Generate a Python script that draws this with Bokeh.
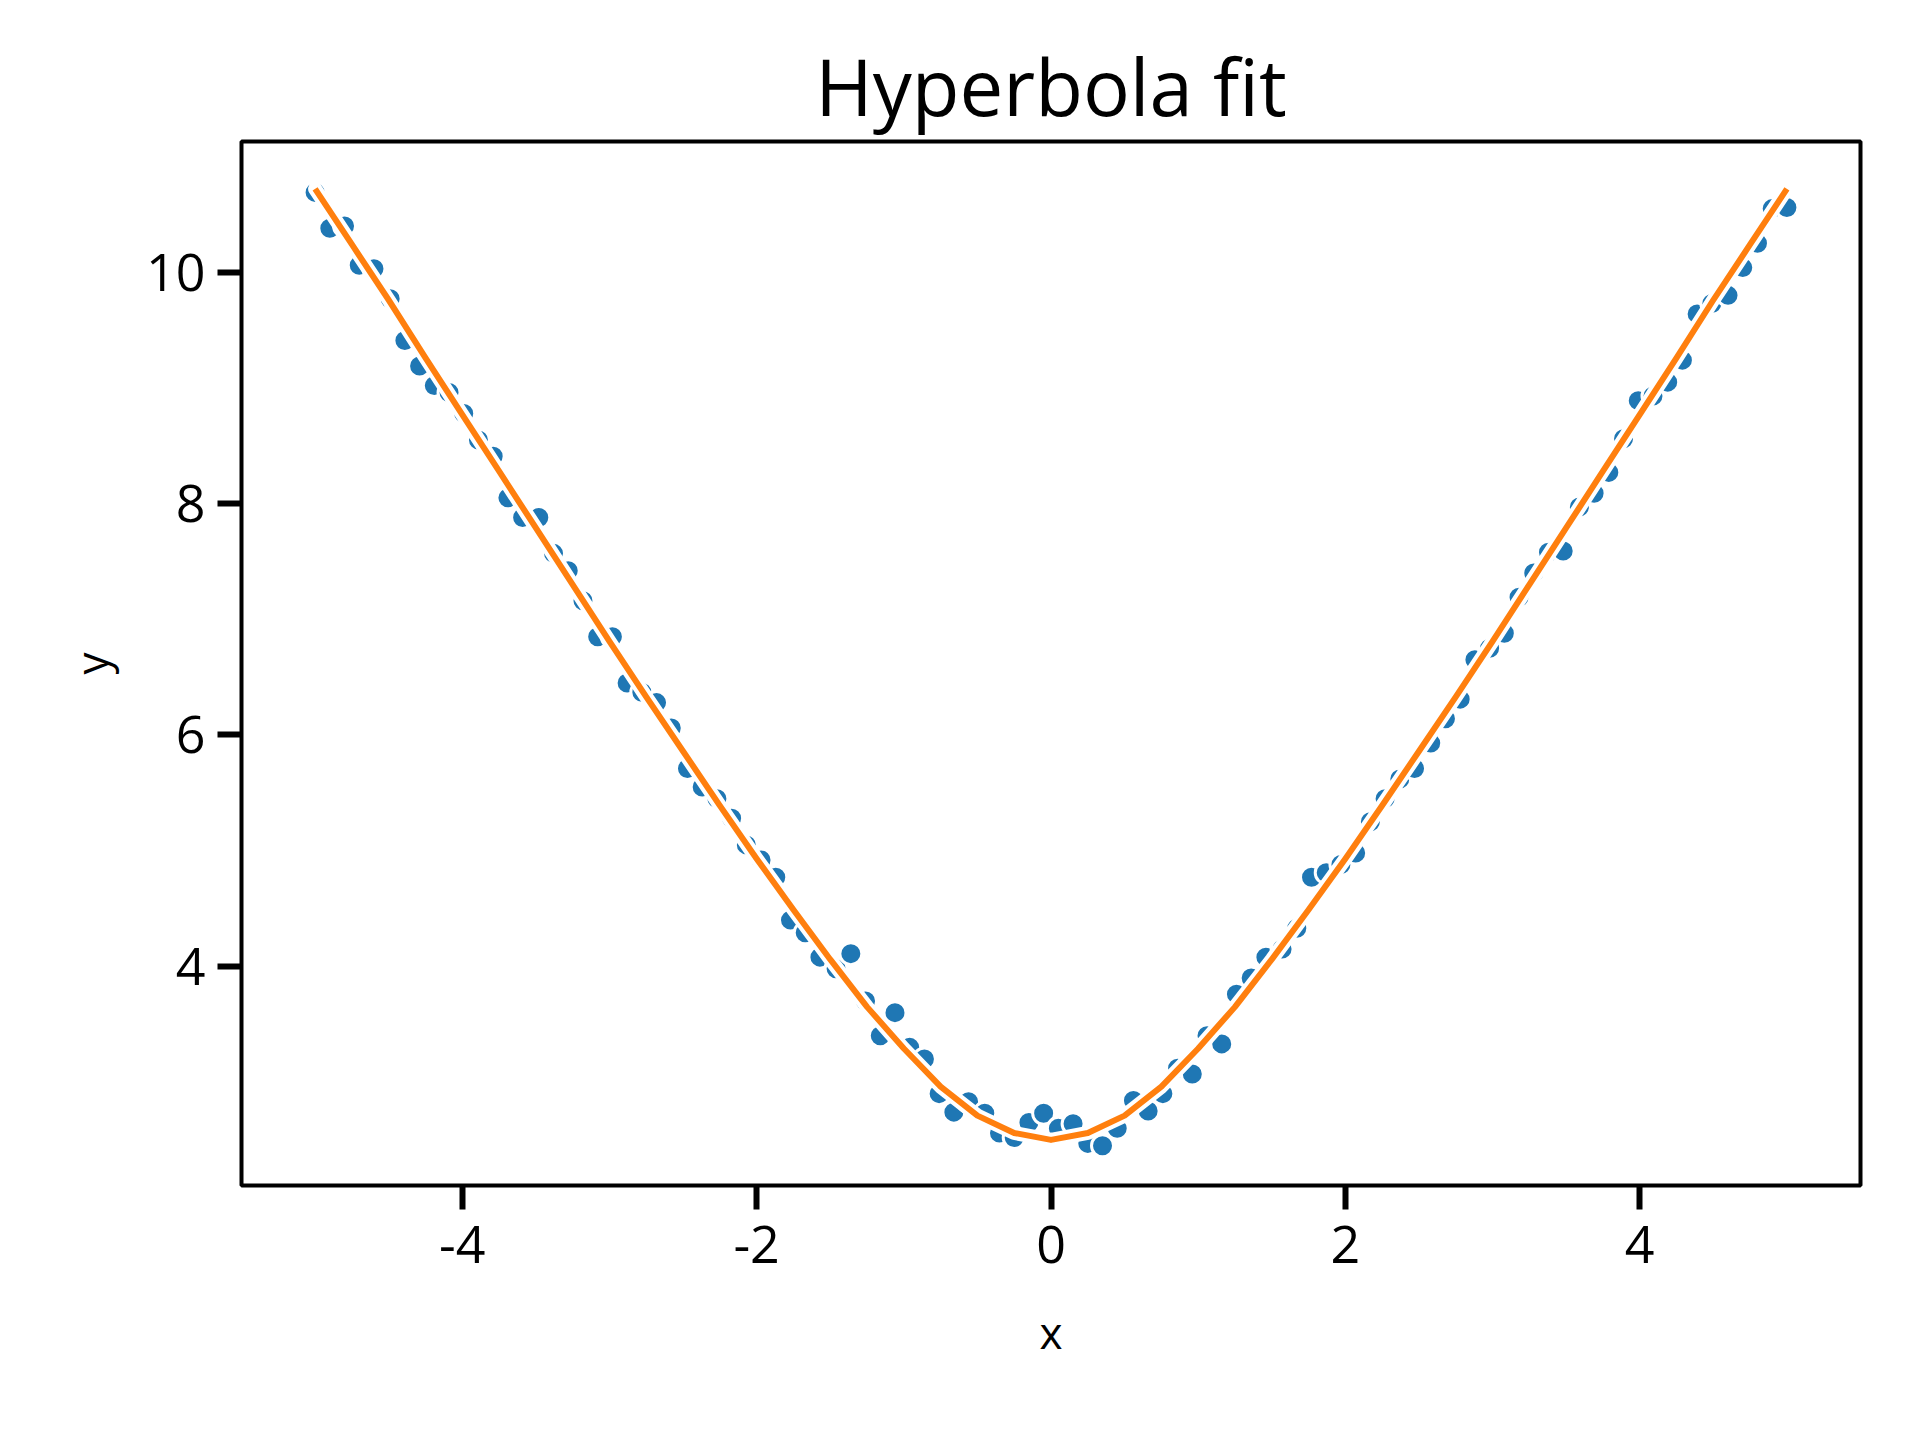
from bokeh.plotting import figure
from bokeh.models import Range1d, FixedTicker, ColumnDataSource
from bokeh.embed import file_html
from bokeh.resources import INLINE

# ---- data ----
x_pts = [-5.00, -4.90, -4.80, -4.70, -4.60, -4.49, -4.39, -4.29, -4.19, -4.09,
         -3.99, -3.89, -3.79, -3.69, -3.59, -3.48, -3.38, -3.28, -3.18, -3.08,
         -2.98, -2.88, -2.78, -2.68, -2.58, -2.47, -2.37, -2.27, -2.17, -2.07,
         -1.97, -1.87, -1.77, -1.67, -1.57, -1.46, -1.36, -1.26, -1.16, -1.06,
         -0.96, -0.86, -0.76, -0.66, -0.56, -0.45, -0.35, -0.25, -0.15, -0.05,
          0.05,  0.15,  0.25,  0.35,  0.45,  0.56,  0.66,  0.76,  0.86,  0.96,
          1.06,  1.16,  1.26,  1.36,  1.46,  1.57,  1.67,  1.77,  1.87,  1.97,
          2.07,  2.17,  2.27,  2.37,  2.47,  2.58,  2.68,  2.78,  2.88,  2.98,
          3.08,  3.18,  3.28,  3.38,  3.48,  3.59,  3.69,  3.79,  3.89,  3.99,
          4.09,  4.19,  4.29,  4.39,  4.49,  4.60,  4.70,  4.80,  4.90,  5.00]
y_pts = [10.69, 10.38, 10.40, 10.06, 10.03, 9.77, 9.41, 9.19, 9.02, 8.96,
         8.78, 8.55, 8.41, 8.05, 7.88, 7.88, 7.57, 7.42, 7.16, 6.85,
         6.85, 6.45, 6.37, 6.28, 6.06, 5.71, 5.55, 5.45, 5.28, 5.05,
         4.92, 4.77, 4.40, 4.29, 4.08, 3.98, 4.11, 3.70, 3.40, 3.60,
         3.30, 3.20, 2.90, 2.74, 2.83, 2.73, 2.56, 2.52, 2.65, 2.73,
         2.60, 2.64, 2.47, 2.45, 2.60, 2.84, 2.75, 2.90, 3.12, 3.07,
         3.40, 3.33, 3.76, 3.90, 4.08, 4.15, 4.33, 4.77, 4.81, 4.88,
         4.98, 5.25, 5.45, 5.62, 5.71, 5.93, 6.14, 6.31, 6.65, 6.75,
         6.88, 7.19, 7.40, 7.58, 7.59, 7.97, 8.09, 8.27, 8.56, 8.89,
         8.93, 9.05, 9.24, 9.64, 9.73, 9.80, 10.04, 10.25, 10.55, 10.56]

x_fit = [-5.0, -4.75, -4.5, -4.25, -4.0, -3.75, -3.5, -3.25, -3.0, -2.75,
         -2.5, -2.25, -2.0, -1.75, -1.5, -1.25, -1.0, -0.75, -0.5, -0.25,
         0.0, 0.25, 0.5, 0.75, 1.0, 1.25, 1.5, 1.75, 2.0, 2.25,
         2.5, 2.75, 3.0, 3.25, 3.5, 3.75, 4.0, 4.25, 4.5, 4.75, 5.0]
y_fit = [10.72, 10.24, 9.76, 9.26, 8.77, 8.28, 7.79, 7.30, 6.81, 6.33,
         5.86, 5.39, 4.93, 4.49, 4.06, 3.65, 3.29, 2.96, 2.71, 2.56,
         2.50, 2.56, 2.71, 2.96, 3.29, 3.65, 4.06, 4.49, 4.93, 5.39,
         5.86, 6.33, 6.81, 7.30, 7.79, 8.28, 8.77, 9.26, 9.76, 10.24, 10.72]

x_ticks = [-4, -2, 0, 2, 4]
x_tick_labels = {-4: "-4", -2: "-2", 0: "0", 2: "2", 4: "4"}
y_ticks = [4, 6, 8, 10]

title_text = "Hyperbola fit"
x_label = "x"
y_label = "y"

FONT = "Open Sans"

p = figure(width=1920, height=1440, output_backend="svg", toolbar_location=None,
           x_range=Range1d(-5.5, 5.5), y_range=Range1d(2.106, 11.13),
           min_border_left=241, min_border_right=60, min_border_top=141,
           min_border_bottom=255, title=title_text)

p.title.text_font = FONT
p.title.text_font_size = "78px"
p.title.text_font_style = "normal"
p.title.text_color = "black"
p.title.align = "center"
p.title.offset = 0
p.title.standoff = 6

p.xgrid.visible = False
p.ygrid.visible = False
p.outline_line_color = "black"
p.outline_line_width = 4
p.background_fill_color = "white"
p.border_fill_color = "white"

src_pts = ColumnDataSource(dict(x=x_pts, y=y_pts))
src_fit = ColumnDataSource(dict(x=x_fit, y=y_fit))

p.scatter("x", "y", source=src_pts, size=22, fill_color="#1f77b4",
          line_color="white", line_width=3)
p.line("x", "y", source=src_fit, line_color="white", line_width=14,
       line_join="round", line_cap="round")
p.line("x", "y", source=src_fit, line_color="#ff7f0e", line_width=6,
       line_join="round")

for ax, ticks, lab in ((p.xaxis, x_ticks, x_label), (p.yaxis, y_ticks, y_label)):
    ax.ticker = FixedTicker(ticks=ticks)
    ax.minor_tick_line_color = None
    ax.axis_line_color = None
    ax.major_tick_line_color = "black"
    ax.major_tick_line_width = 6
    ax.major_tick_in = 0
    ax.major_tick_out = 24
    ax.major_label_text_font = FONT
    ax.major_label_text_font_size = "52px"
    ax.major_label_text_color = "black"
    ax.axis_label = lab
    ax.axis_label_text_font = FONT
    ax.axis_label_text_font_size = "44px"
    ax.axis_label_text_font_style = "normal"
    ax.axis_label_text_color = "black"

p.xaxis.major_label_overrides = x_tick_labels
p.xaxis.major_label_standoff = 16
p.xaxis.axis_label_standoff = 36
p.yaxis.major_label_standoff = 12
p.yaxis.axis_label_standoff = 22

open("out.html", "w").write(file_html(p, INLINE))
